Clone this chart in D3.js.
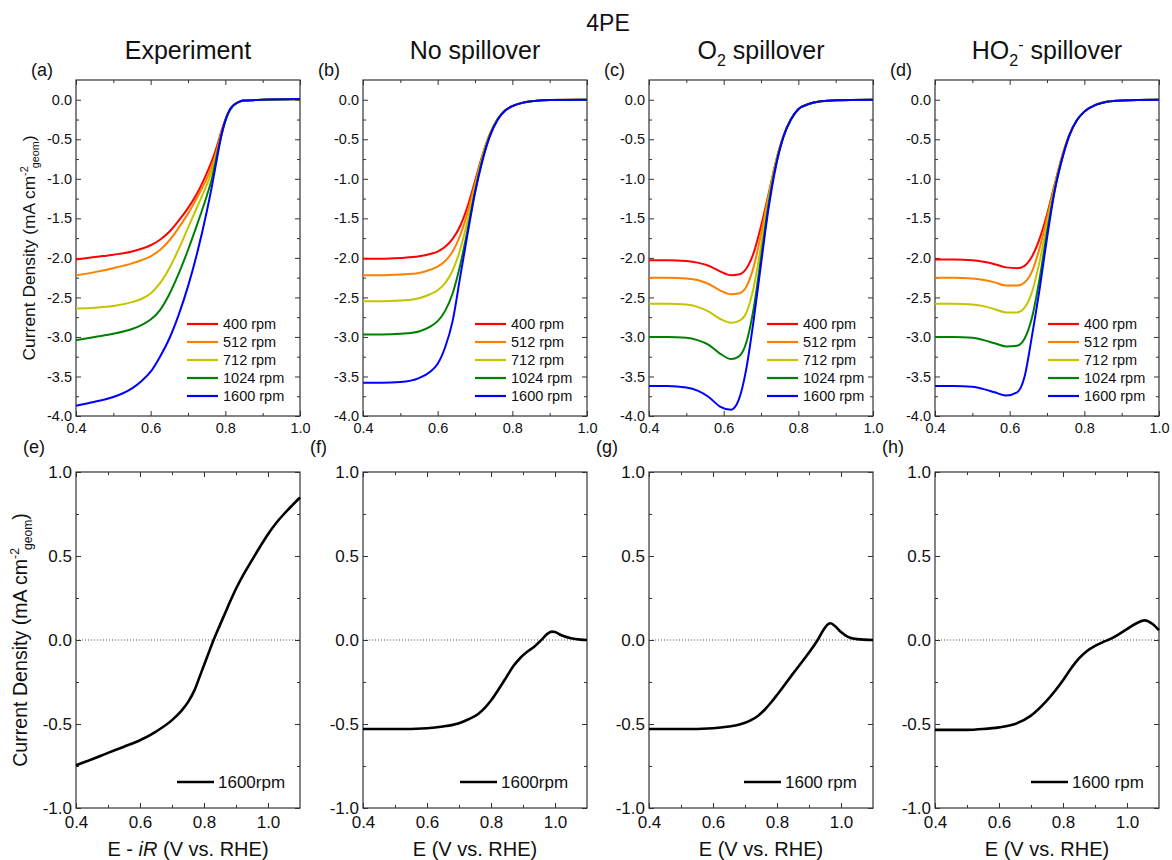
<!DOCTYPE html>
<html>
<head>
<meta charset="UTF-8">
<title>4PE</title>
<script src="https://d3js.org/d3.v7.min.js"></script>
<style>
  body { margin: 0; background: #fff; }
  text { font-family: 'Liberation Sans', Arial, sans-serif; fill: #111; }
</style>
</head>
<body>
<script>
// ---- data ----
const rpmLabels = ["400 rpm", "512 rpm", "712 rpm", "1024 rpm", "1600 rpm"];
const colTitles = ["Experiment", "No spillover", "O2 spillover", "HO2- spillover"];
const panelLetters = ["(a)", "(b)", "(c)", "(d)", "(e)", "(f)", "(g)", "(h)"];

// (a) experiment, disk current
const expE = [0.4, 0.45, 0.5, 0.55, 0.575, 0.6, 0.625, 0.65, 0.675, 0.7, 0.725, 0.75, 0.765, 0.78, 0.79, 0.8, 0.81, 0.82, 0.835, 0.85, 0.9, 1.0];
const expJ = [
  [-2.02, -1.99, -1.96, -1.92, -1.885, -1.84, -1.77, -1.67, -1.53, -1.37, -1.18, -0.93, -0.76, -0.55, -0.39, -0.25, -0.15, -0.08, -0.03, -0.01, 0.0, 0.01],
  [-2.22, -2.18, -2.13, -2.07, -2.03, -1.98, -1.90, -1.78, -1.62, -1.44, -1.23, -1.00, -0.83, -0.59, -0.41, -0.26, -0.15, -0.08, -0.03, -0.01, 0.0, 0.01],
  [-2.64, -2.63, -2.61, -2.56, -2.52, -2.45, -2.32, -2.13, -1.89, -1.62, -1.35, -1.08, -0.89, -0.62, -0.43, -0.27, -0.15, -0.08, -0.03, -0.01, 0.0, 0.01],
  [-3.04, -3.00, -2.96, -2.90, -2.85, -2.78, -2.66, -2.46, -2.20, -1.90, -1.57, -1.22, -0.98, -0.64, -0.44, -0.27, -0.15, -0.08, -0.03, -0.01, 0.0, 0.01],
  [-3.87, -3.82, -3.76, -3.65, -3.56, -3.44, -3.25, -3.02, -2.72, -2.36, -1.93, -1.42, -1.07, -0.68, -0.44, -0.26, -0.14, -0.075, -0.03, -0.01, 0.0, 0.01]
];

// (b) no spillover
const noE = [0.4, 0.45, 0.5, 0.55, 0.58, 0.6, 0.62, 0.64, 0.66, 0.68, 0.7, 0.72, 0.74, 0.76, 0.78, 0.8, 0.83, 0.86, 0.9, 1.0];
const noJ = [
  [-2.01, -2.01, -2.00, -1.98, -1.95, -1.92, -1.86, -1.76, -1.60, -1.35, -1.03, -0.70, -0.43, -0.25, -0.14, -0.08, -0.035, -0.015, -0.004, 0.0],
  [-2.22, -2.22, -2.21, -2.19, -2.15, -2.11, -2.04, -1.92, -1.72, -1.43, -1.07, -0.71, -0.43, -0.25, -0.14, -0.08, -0.035, -0.015, -0.004, 0.0],
  [-2.55, -2.55, -2.54, -2.51, -2.46, -2.41, -2.32, -2.16, -1.90, -1.53, -1.11, -0.73, -0.44, -0.25, -0.14, -0.08, -0.035, -0.015, -0.004, 0.0],
  [-2.97, -2.97, -2.96, -2.93, -2.87, -2.80, -2.67, -2.45, -2.10, -1.65, -1.16, -0.75, -0.45, -0.25, -0.14, -0.08, -0.035, -0.015, -0.004, 0.0],
  [-3.58, -3.58, -3.57, -3.52, -3.44, -3.34, -3.13, -2.80, -2.25, -1.70, -1.18, -0.77, -0.46, -0.26, -0.14, -0.08, -0.035, -0.015, -0.004, 0.0]
];

// (c) O2 spillover
const o2E = [0.4, 0.45, 0.5, 0.53, 0.56, 0.59, 0.62, 0.64, 0.66, 0.68, 0.7, 0.72, 0.74, 0.76, 0.78, 0.8, 0.83, 0.86, 0.9, 1.0];
const o2J = [
  [-2.03, -2.03, -2.04, -2.06, -2.10, -2.17, -2.22, -2.21, -2.14, -1.94, -1.60, -1.20, -0.78, -0.46, -0.25, -0.12, -0.05, -0.02, -0.005, 0.0],
  [-2.25, -2.25, -2.26, -2.28, -2.33, -2.41, -2.46, -2.45, -2.37, -2.12, -1.70, -1.22, -0.79, -0.46, -0.25, -0.12, -0.05, -0.02, -0.005, 0.0],
  [-2.58, -2.58, -2.59, -2.62, -2.68, -2.77, -2.82, -2.80, -2.70, -2.38, -1.85, -1.27, -0.80, -0.46, -0.25, -0.12, -0.05, -0.02, -0.005, 0.0],
  [-3.00, -3.00, -3.01, -3.04, -3.10, -3.21, -3.28, -3.25, -3.08, -2.65, -2.00, -1.33, -0.82, -0.47, -0.25, -0.12, -0.05, -0.02, -0.005, 0.0],
  [-3.62, -3.62, -3.64, -3.68, -3.76, -3.88, -3.92, -3.80, -3.42, -2.80, -2.08, -1.38, -0.84, -0.47, -0.25, -0.12, -0.05, -0.02, -0.005, 0.0]
];

// (d) HO2- spillover
const ho2E = [0.4, 0.45, 0.5, 0.53, 0.56, 0.59, 0.62, 0.64, 0.66, 0.68, 0.7, 0.72, 0.74, 0.76, 0.78, 0.8, 0.83, 0.86, 0.9, 1.0];
const ho2J = [
  [-2.02, -2.02, -2.03, -2.05, -2.08, -2.12, -2.13, -2.10, -1.98, -1.76, -1.45, -1.08, -0.72, -0.44, -0.26, -0.15, -0.065, -0.025, -0.008, 0.0],
  [-2.25, -2.25, -2.26, -2.28, -2.31, -2.35, -2.35, -2.31, -2.17, -1.88, -1.50, -1.10, -0.73, -0.44, -0.26, -0.15, -0.065, -0.025, -0.008, 0.0],
  [-2.58, -2.58, -2.59, -2.61, -2.65, -2.69, -2.69, -2.63, -2.43, -2.05, -1.58, -1.12, -0.74, -0.44, -0.26, -0.15, -0.065, -0.025, -0.008, 0.0],
  [-3.00, -3.00, -3.01, -3.04, -3.08, -3.12, -3.11, -3.02, -2.75, -2.27, -1.68, -1.15, -0.75, -0.45, -0.26, -0.15, -0.065, -0.025, -0.008, 0.0],
  [-3.62, -3.62, -3.63, -3.66, -3.70, -3.74, -3.70, -3.50, -2.98, -2.40, -1.75, -1.17, -0.76, -0.45, -0.26, -0.15, -0.065, -0.025, -0.008, 0.0]
];

// (e)-(h) ring current, 1600 rpm
const ringExpE = [0.4, 0.45, 0.5, 0.55, 0.6, 0.65, 0.7, 0.73, 0.75, 0.77, 0.79, 0.81, 0.83, 0.85, 0.875, 0.9, 0.925, 0.95, 0.975, 1.0, 1.025, 1.05, 1.075, 1.1];
const ringExpJ = [-0.746, -0.71, -0.672, -0.635, -0.597, -0.545, -0.477, -0.42, -0.37, -0.30, -0.20, -0.10, 0.0, 0.09, 0.20, 0.305, 0.395, 0.475, 0.555, 0.63, 0.695, 0.75, 0.80, 0.848];
const ringNoE = [0.4, 0.5, 0.6, 0.65, 0.7, 0.73, 0.76, 0.78, 0.8, 0.83, 0.85, 0.87, 0.89, 0.91, 0.935, 0.96, 0.975, 0.99, 1.0, 1.02, 1.05, 1.08, 1.1];
const ringNoJ = [-0.53, -0.53, -0.525, -0.515, -0.495, -0.472, -0.44, -0.405, -0.36, -0.275, -0.215, -0.155, -0.11, -0.075, -0.04, 0.005, 0.035, 0.05, 0.047, 0.028, 0.01, 0.002, 0.0];
const ringO2E = [0.4, 0.5, 0.6, 0.65, 0.68, 0.7, 0.72, 0.74, 0.76, 0.78, 0.8, 0.85, 0.9, 0.927, 0.945, 0.96, 0.967, 0.98, 1.0, 1.02, 1.05, 1.1];
const ringO2J = [-0.53, -0.53, -0.525, -0.515, -0.505, -0.493, -0.476, -0.452, -0.418, -0.375, -0.327, -0.20, -0.075, 0.0, 0.06, 0.095, 0.10, 0.085, 0.047, 0.02, 0.005, 0.0];
const ringHo2E = [0.4, 0.5, 0.55, 0.6, 0.65, 0.7, 0.75, 0.8, 0.825, 0.85, 0.875, 0.9, 0.925, 0.95, 0.975, 1.0, 1.03, 1.055, 1.08, 1.1];
const ringHo2J = [-0.535, -0.535, -0.53, -0.52, -0.50, -0.45, -0.36, -0.24, -0.17, -0.11, -0.065, -0.035, -0.012, 0.008, 0.035, 0.065, 0.10, 0.117, 0.095, 0.058];
const ringLegend = ["1600rpm", "1600rpm", "1600 rpm", "1600 rpm"];

// ticks
const topXMajor = [0.4, 0.6, 0.8, 1.0], topXMinor = [0.5, 0.7, 0.9];
const topYMajor = [-4, -3.5, -3, -2.5, -2, -1.5, -1, -0.5, 0];
const topYMinor = [-3.75, -3.25, -2.75, -2.25, -1.75, -1.25, -0.75, -0.25];
const botXMajor = [0.4, 0.6, 0.8, 1.0], botXMinor = [0.5, 0.7, 0.9];
const botYMajor = [-1, -0.5, 0, 0.5, 1], botYMinor = [-0.75, -0.25, 0.25, 0.75];

// ---- layout ----
const W = 1172, H = 860;
const colLeft = [76, 363, 649, 935];
const panelW = 224;
const rowTop = [80, 472], rowBot = [416, 808];
const rpmColors = ["#ff0000", "#ff8000", "#c4c400", "#008000", "#0000ff"];
const topLegendX = [111, 112, 118, 113];
const botLegendX = [101, 97, 95, 96];
const fmt = d => d.toFixed(1);

const svg = d3.select("body").append("svg").attr("width", W).attr("height", H);

function axes(g, x, y, xMaj, xMin, yMaj, yMin, xPad, fs) {
  const [x0, x1] = x.range(), [yb, yt] = y.range();
  const add = (gen, tx, ty) => {
    const a = g.append("g").attr("transform", `translate(${tx},${ty})`).call(gen);
    a.select(".domain").remove();
    a.selectAll("line").attr("stroke", "#333").attr("stroke-width", 1);
    a.selectAll("text").attr("font-size", fs).attr("font-family", null).attr("fill", "#111");
    return a;
  };
  add(d3.axisBottom(x).tickValues(xMaj).tickSize(-5).tickPadding(xPad).tickFormat(fmt), 0, yb);
  add(d3.axisBottom(x).tickValues(xMin).tickSize(-3).tickFormat(""), 0, yb);
  add(d3.axisTop(x).tickValues(xMaj).tickSize(-5).tickFormat(""), 0, yt);
  add(d3.axisTop(x).tickValues(xMin).tickSize(-3).tickFormat(""), 0, yt);
  add(d3.axisLeft(y).tickValues(yMaj).tickSize(-5).tickPadding(4).tickFormat(fmt), x0, 0);
  add(d3.axisLeft(y).tickValues(yMin).tickSize(-3).tickFormat(""), x0, 0);
  add(d3.axisRight(y).tickValues(yMaj).tickSize(-5).tickFormat(""), x1, 0);
  add(d3.axisRight(y).tickValues(yMin).tickSize(-3).tickFormat(""), x1, 0);
  g.append("rect").attr("x", x0).attr("y", yt).attr("width", x1 - x0).attr("height", yb - yt)
    .attr("fill", "none").attr("stroke", "#333").attr("stroke-width", 1.2);
}

// title
svg.append("text").attr("x", 608).attr("y", 31).attr("text-anchor", "middle")
  .attr("font-size", 23).text("4PE");

// column titles
colTitles.forEach((t, i) => {
  const cx = colLeft[i] + panelW / 2;
  const tx = svg.append("text").attr("x", cx).attr("y", 59).attr("text-anchor", "middle").attr("font-size", 25);
  if (i === 2) {
    tx.append("tspan").text("O");
    tx.append("tspan").attr("font-size", 16).attr("dy", 7).text("2");
    tx.append("tspan").attr("dy", -7).text(" spillover");
  } else if (i === 3) {
    tx.append("tspan").text("HO");
    tx.append("tspan").attr("font-size", 16).attr("dy", 7).text("2");
    tx.append("tspan").attr("font-size", 16).attr("dy", -16).text("-");
    tx.append("tspan").attr("dy", 9).text(" spillover");
  } else {
    tx.text(t);
  }
});

// y-axis titles
function yTitle(x, cy, fs) {
  const t = svg.append("text").attr("transform", `translate(${x},${cy}) rotate(-90)`)
    .attr("text-anchor", "middle").attr("font-size", fs);
  const s = fs * 0.62;
  t.append("tspan").text("Current Density (mA cm");
  t.append("tspan").attr("font-size", s).attr("dy", -fs * 0.42).text("-2");
  t.append("tspan").attr("font-size", s).attr("dy", fs * 0.65).attr("dx", -2).text("geom");
  t.append("tspan").attr("dy", -fs * 0.23).text(")");
}
yTitle(35, 248, 17.4);
yTitle(27, 640, 19.6);

// top row panels
const topData = [[expE, expJ], [noE, noJ], [o2E, o2J], [ho2E, ho2J]];
topData.forEach(([E, J], i) => {
  const g = svg.append("g");
  const x = d3.scaleLinear().domain([0.4, 1.0]).range([colLeft[i], colLeft[i] + panelW]);
  const y = d3.scaleLinear().domain([-4, 0.25]).range([rowBot[0], rowTop[0]]);
  axes(g, x, y, topXMajor, topXMinor, topYMajor, topYMinor, 7, 14.5);
  const line = d3.line().x((d, k) => x(E[k])).y(d => y(d)).curve(d3.curveMonotoneX);
  J.forEach((s, k) => {
    g.append("path").attr("d", line(s)).attr("fill", "none")
      .attr("stroke", rpmColors[k]).attr("stroke-width", 2);
  });
  // legend
  const lx = colLeft[i] + topLegendX[i];
  rpmLabels.forEach((lab, k) => {
    const ly = 324 + 18 * k;
    g.append("line").attr("x1", lx).attr("x2", lx + 31).attr("y1", ly).attr("y2", ly)
      .attr("stroke", rpmColors[k]).attr("stroke-width", 2.2);
    g.append("text").attr("x", lx + 36).attr("y", ly + 5).attr("font-size", 14.5).text(lab);
  });
  svg.append("text").attr("x", colLeft[i] - 45).attr("y", 76).attr("font-size", 18).text(panelLetters[i]);
});

// bottom row panels
const botData = [[ringExpE, ringExpJ], [ringNoE, ringNoJ], [ringO2E, ringO2J], [ringHo2E, ringHo2J]];
botData.forEach(([E, J], i) => {
  const g = svg.append("g");
  const x = d3.scaleLinear().domain([0.4, 1.1]).range([colLeft[i], colLeft[i] + panelW]);
  const y = d3.scaleLinear().domain([-1, 1]).range([rowBot[1], rowTop[1]]);
  g.append("line").attr("x1", x(0.4)).attr("x2", x(1.1)).attr("y1", y(0)).attr("y2", y(0))
    .attr("stroke", "#555").attr("stroke-width", 1).attr("stroke-dasharray", "1,2");
  axes(g, x, y, botXMajor, botXMinor, botYMajor, botYMinor, 8, 17);
  const line = d3.line().x((d, k) => x(E[k])).y(d => y(d)).curve(d3.curveMonotoneX);
  g.append("path").attr("d", line(J)).attr("fill", "none").attr("stroke", "#000").attr("stroke-width", 2.6);
  const lx = colLeft[i] + botLegendX[i];
  g.append("line").attr("x1", lx).attr("x2", lx + 37).attr("y1", 782).attr("y2", 782)
    .attr("stroke", "#000").attr("stroke-width", 2.6);
  g.append("text").attr("x", lx + 41).attr("y", 788).attr("font-size", 17).text(ringLegend[i]);
  svg.append("text").attr("x", colLeft[i] - 53).attr("y", 453).attr("font-size", 18).text(panelLetters[i + 4]);
  // x-axis title
  const t = svg.append("text").attr("x", colLeft[i] + panelW / 2).attr("y", 856)
    .attr("text-anchor", "middle").attr("font-size", 20);
  if (i === 0) {
    t.append("tspan").text("E - ");
    t.append("tspan").attr("font-style", "italic").text("iR");
    t.append("tspan").text(" (V vs. RHE)");
  } else {
    t.text("E (V vs. RHE)");
  }
});
</script>
</body>
</html>
